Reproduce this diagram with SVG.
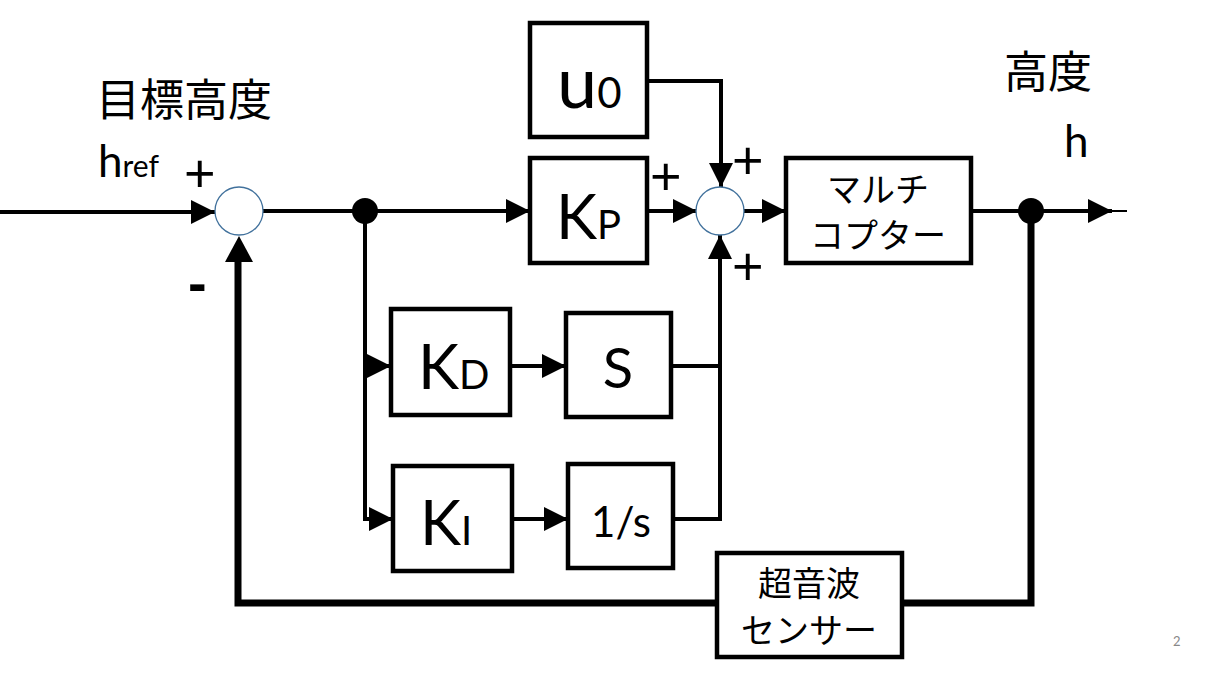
<svg xmlns="http://www.w3.org/2000/svg" width="1212" height="675" viewBox="0 0 1212 675">
<style>
.box{fill:#fff;stroke:#000;stroke-width:4.5}
.sum{fill:#fff;stroke:#41719c;stroke-width:1.3}
.ln{fill:none;stroke:#000;stroke-width:4}
.thick{fill:none;stroke:#000;stroke-width:7}
.t{font-family:Lato,"Open Sans","Liberation Sans",sans-serif;fill:#000}
.j{font-family:"Noto Sans CJK JP","Liberation Sans",sans-serif;fill:#000}
.sign{font-family:"Liberation Sans",Arial,sans-serif;fill:#000}
</style>
<defs>
<marker id="ah" viewBox="0 0 24 24" refX="24" refY="12" markerWidth="24" markerHeight="24" markerUnits="userSpaceOnUse" orient="auto">
<path d="M0,0 L24,12 L0,24 Z" fill="#000"/>
</marker>
</defs>
<g id="connectors">
<line class="ln" x1="0" y1="212" x2="215" y2="212" marker-end="url(#ah)"/>
<line class="ln" x1="263" y1="211" x2="530" y2="211" marker-end="url(#ah)"/>
<polyline class="ln" points="365,211 365,366 391,366" marker-end="url(#ah)"/>
<polyline class="ln" points="365,366 365,519 393,519" marker-end="url(#ah)"/>
<line class="ln" x1="510" y1="366" x2="566" y2="366" marker-end="url(#ah)"/>
<line class="ln" x1="512" y1="519" x2="568" y2="519" marker-end="url(#ah)"/>
<line class="ln" x1="671" y1="366" x2="720" y2="366"/>
<line class="ln" x1="673" y1="519" x2="722" y2="519"/>
<line class="ln" x1="720" y1="521" x2="720" y2="235" marker-end="url(#ah)"/>
<polyline class="ln" points="647,81 721,81 721,187" marker-end="url(#ah)"/>
<line class="ln" x1="647" y1="211" x2="697" y2="211" marker-end="url(#ah)"/>
<line class="ln" x1="744" y1="211" x2="786" y2="211" marker-end="url(#ah)"/>
<line class="ln" x1="971" y1="211" x2="1112" y2="211" marker-end="url(#ah)"/>
<line x1="1108" y1="211" x2="1127" y2="211" stroke="#000" stroke-width="2"/>
<polyline class="thick" points="1031,211 1031,603 238,603 238,262"/>
<path d="M225,262 L239,236 L253,262 Z" fill="#000"/>
<circle cx="365" cy="211" r="13" fill="#000"/>
<circle cx="1031" cy="211" r="13" fill="#000"/>
</g>
<g id="sum1"><circle class="sum" cx="239" cy="211" r="24"/></g>
<g id="sum2"><circle class="sum" cx="720" cy="211" r="24"/></g>
<g id="u0">
<rect class="box" x="530" y="23" width="117" height="114"/>
<text class="t" x="557" y="108" font-size="72">u<tspan font-size="42">0</tspan></text>
</g>
<g id="kp">
<rect class="box" x="530" y="158" width="117" height="105"/>
<text class="t" x="556" y="239" font-size="62">K<tspan font-size="40">P</tspan></text>
</g>
<g id="kd">
<rect class="box" x="391" y="309" width="119" height="106"/>
<text class="t" x="418" y="389" font-size="62">K<tspan font-size="40">D</tspan></text>
</g>
<g id="s">
<rect class="box" x="566" y="313" width="105" height="104"/>
<text class="t" x="618" y="388" font-size="56" text-anchor="middle">S</text>
</g>
<g id="ki">
<rect class="box" x="393" y="466" width="119" height="105"/>
<text class="t" x="420" y="545" font-size="62">K<tspan font-size="40">I</tspan></text>
</g>
<g id="integ">
<rect class="box" x="568" y="464" width="105" height="104"/>
<text class="t" x="621" y="537" font-size="42" text-anchor="middle">1/s</text>
</g>
<g id="multicopter">
<rect class="box" x="786" y="158" width="185" height="105"/>
<text class="j" x="878" y="202" font-size="34" text-anchor="middle">マルチ</text>
<text class="j" x="878" y="248" font-size="34" text-anchor="middle">コプター</text>
</g>
<g id="sensor">
<rect class="box" x="717" y="553" width="185" height="104"/>
<text class="j" x="809" y="596" font-size="34" text-anchor="middle">超音波</text>
<text class="j" x="809" y="643" font-size="34" text-anchor="middle">センサー</text>
</g>
<g id="labels">
<text class="j" x="96" y="116" font-size="44">目標高度</text>
<text class="t" x="98" y="177" font-size="44">h<tspan font-size="30">ref</tspan></text>
<text class="j" x="1004" y="88" font-size="44">高度</text>
<text class="t" x="1064" y="157" font-size="44">h</text>
<text class="sign" x="184" y="192" font-size="54">+</text>
<text class="sign" x="188" y="302" font-size="56" font-weight="bold">-</text>
<text class="sign" x="650" y="195" font-size="54">+</text>
<text class="sign" x="732" y="179" font-size="54">+</text>
<text class="sign" x="732" y="285" font-size="54">+</text>
<text x="1173" y="646" font-family="Lato,'Liberation Sans',sans-serif" font-size="13" fill="#888">2</text>
</g>
</svg>
